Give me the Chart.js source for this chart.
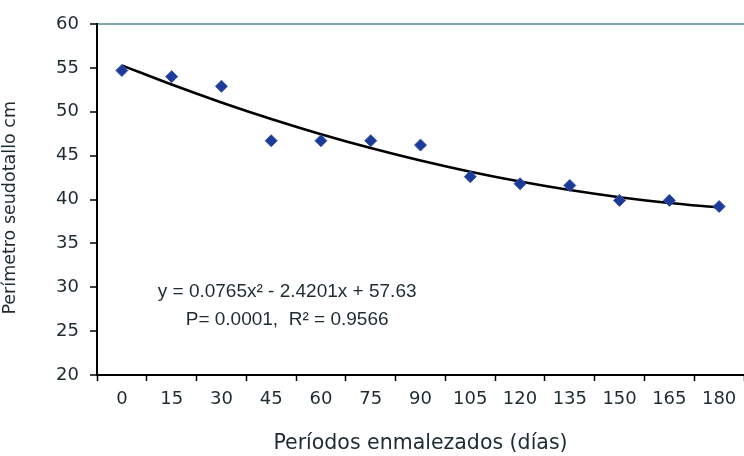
<!DOCTYPE html>
<html>
<head>
<meta charset="utf-8">
<script src="https://cdn.jsdelivr.net/npm/chart.js@4/dist/chart.umd.min.js"></script>
<style>
  html, body { margin: 0; padding: 0; background: #fff; }
  #wrap { width: 744px; height: 456px; }
</style>
</head>
<body>
<div id="wrap"><canvas id="c" width="744" height="456"></canvas></div>
<script>
// Weeded periods (days) and pseudostem perimeter (cm)
const periods = ['0', '15', '30', '45', '60', '75', '90', '105', '120', '135', '150', '165', '180'];
const perimeter = [54.7, 54.0, 52.9, 46.7, 46.7, 46.7, 46.2, 42.6, 41.8, 41.6, 39.9, 39.9, 39.2];

// Quadratic fit over period index (1..13): y = a x² + b x + c
const fitA = 0.0765;
const fitB = -2.4201;
const fitC = 57.63;
const fitLabel = ['y = 0.0765x² - 2.4201x + 57.63', 'P= 0.0001,  R² = 0.9566'];

const trend = periods.map((_, i) => {
  const x = i + 1;
  return fitA * x * x + fitB * x + fitC;
});

const FONT = '"DejaVu Sans", Verdana, sans-serif';
const TEXT = '#1e2b30';

// Equation text placed in data coordinates
const equationPlugin = {
  id: 'equation',
  afterDatasetsDraw(chart) {
    const { ctx, scales } = chart;
    const x = scales.x.getPixelForValue(3.32);
    ctx.save();
    ctx.font = '19px "Liberation Sans", Arial, sans-serif';
    ctx.fillStyle = TEXT;
    ctx.textAlign = 'center';
    ctx.textBaseline = 'middle';
    ctx.fillText(fitLabel[0], x, scales.y.getPixelForValue(29.45));
    ctx.fillText(fitLabel[1], x, scales.y.getPixelForValue(26.3));
    ctx.restore();
  }
};

new Chart(document.getElementById('c'), {
  data: {
    labels: periods,
    datasets: [
      {
        type: 'line',
        data: trend,
        borderColor: '#000',
        borderWidth: 2.6,
        pointRadius: 0,
        tension: 0.4,
        cubicInterpolationMode: 'monotone',
        order: 2
      },
      {
        type: 'scatter',
        data: perimeter,
        showLine: false,
        pointStyle: 'rectRot',
        pointRadius: 6,
        backgroundColor: '#1c3a96',
        borderColor: '#3456b0',
        borderWidth: 1,
        order: 1
      }
    ]
  },
  options: {
    responsive: false,
    animation: false,
    devicePixelRatio: 1,
    layout: { autoPadding: false, padding: { top: 24, right: 0, left: 0, bottom: 0 } },
    plugins: { legend: { display: false }, tooltip: { enabled: false } },
    scales: {
      x: {
        type: 'category',
        offset: true,
        afterFit(s) { s.height = 81; s.paddingLeft = 0; s.paddingRight = 0; },
        grid: { offset: true, drawOnChartArea: false, tickLength: 6, tickColor: '#000', tickWidth: 1.5 },
        border: { color: '#000', width: 2 },
        ticks: { color: TEXT, font: { family: FONT, size: 18 }, padding: 8, maxRotation: 0, autoSkip: false },
        title: {
          display: true,
          text: 'Períodos enmalezados (días)',
          color: TEXT,
          font: { family: FONT, size: 20.5 },
          padding: { top: 10, bottom: 0 }
        }
      },
      y: {
        min: 20,
        max: 60,
        afterFit(s) { s.width = 97; s.paddingTop = 0; s.paddingBottom = 0; },
        grid: {
          drawOnChartArea: true,
          color: c => (c.tick && c.tick.value === 60 ? '#7fa6b3' : 'rgba(0,0,0,0)'),
          lineWidth: 2,
          tickLength: 7,
          tickColor: '#000',
          tickWidth: 1.5
        },
        border: { color: '#000', width: 2 },
        ticks: { stepSize: 5, color: TEXT, font: { family: FONT, size: 18 }, padding: 11 },
        title: {
          display: true,
          text: 'Perímetro seudotallo cm\u00a0\u00a0\u00a0',
          color: TEXT,
          font: { family: FONT, size: 17.5 },
          padding: { top: 0, bottom: 2 }
        }
      }
    }
  },
  plugins: [equationPlugin]
});
</script>
</body>
</html>
